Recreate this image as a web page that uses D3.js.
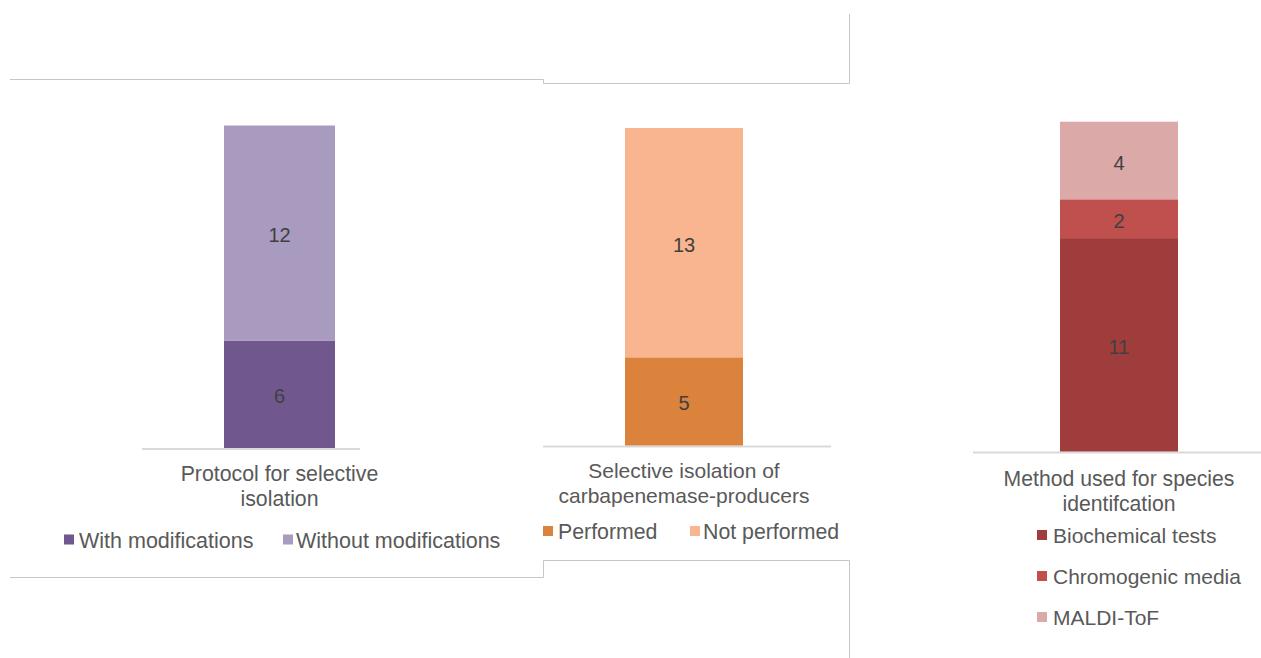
<!DOCTYPE html>
<html>
<head>
<meta charset="utf-8">
<script src="https://cdn.jsdelivr.net/npm/d3@7"></script>
<style>
  html, body { margin: 0; padding: 0; background: #fff; }
  svg { display: block; font-family: "Liberation Sans", Arial, sans-serif; }
</style>
</head>
<body>
<svg id="chart" width="1261" height="658"></svg>
<script>
// ---------- data ----------
const protocolCategory = ["Protocol for selective", "isolation"];
const protocolSeries = ["With modifications", "Without modifications"];
const protocolValues = [6, 12];
const protocolColors = ["#70578D", "#A99ABF"];

const isolationCategory = ["Selective isolation of", "carbapenemase-producers"];
const isolationSeries = ["Performed", "Not performed"];
const isolationValues = [5, 13];
const isolationColors = ["#DB823C", "#F8B590"];

const methodCategory = ["Method used for species", "identifcation"];
const methodSeries = ["Biochemical tests", "Chromogenic media", "MALDI-ToF"];
const methodValues = [11, 2, 4];
const methodColors = ["#9E3D3B", "#C0504D", "#DBA9A8"];

// ---------- layout ----------
const panels = [
  { cat: protocolCategory, series: protocolSeries, values: protocolValues, colors: protocolColors,
    base: 448, top: 125.5, barX: [224, 335], axisX: [142, 360],
    titleY: 481, titleFS: 21.3, legendFS: 21.5,
    legend: { type: "row", y: 540, items: [[64, 79], [283, 296]] } },
  { cat: isolationCategory, series: isolationSeries, values: isolationValues, colors: isolationColors,
    base: 445.5, top: 128, barX: [625, 743], axisX: [543, 831],
    titleY: 478, titleFS: 21, legendFS: 21.3,
    legend: { type: "row", y: 531.5, items: [[543, 558], [690, 703]] } },
  { cat: methodCategory, series: methodSeries, values: methodValues, colors: methodColors,
    base: 451.5, top: 121.7, barX: [1060, 1178], axisX: [973, 1261],
    titleY: 486, titleFS: 21.2, legendFS: 21,
    legend: { type: "col", x: [1037, 1053], ys: [535.5, 576.5, 617.5] } }
];

const svg = d3.select("#chart");

// frame lines
const frame = svg.append("g").attr("fill", "none").attr("stroke", "#C6C6C6").attr("stroke-width", 1);
frame.append("path").attr("d", d3.line()([[10, 79.5], [543.5, 79.5], [543.5, 83.5], [849.5, 83.5], [849.5, 14]]));
frame.append("path").attr("d", d3.line()([[10, 577.5], [543.5, 577.5], [543.5, 560.5], [849.5, 560.5], [849.5, 658]]));

panels.forEach(p => {
  const g = svg.append("g");
  const total = d3.sum(p.values);
  const y = d3.scaleLinear().domain([0, total]).range([p.base, p.top]);
  const x = d3.scaleBand().domain([p.cat.join(" ")]).range(p.barX).padding(0);

  const row = { cat: p.cat.join(" ") };
  p.series.forEach((s, i) => row[s] = p.values[i]);
  const stacked = d3.stack().keys(p.series)([row]);

  // baseline
  g.append("line")
    .attr("x1", p.axisX[0]).attr("x2", p.axisX[1])
    .attr("y1", p.base + 1).attr("y2", p.base + 1)
    .attr("stroke", "#D9D9D9").attr("stroke-width", 2);

  // bars
  stacked.forEach((layer, i) => {
    const d = layer[0];
    g.append("rect")
      .attr("x", x(row.cat))
      .attr("width", x.bandwidth())
      .attr("y", y(d[1]))
      .attr("height", y(d[0]) - y(d[1]))
      .attr("fill", p.colors[i]);
    g.append("text")
      .attr("x", x(row.cat) + x.bandwidth() / 2)
      .attr("y", (y(d[0]) + y(d[1])) / 2)
      .attr("dy", "0.45em")
      .attr("text-anchor", "middle")
      .attr("font-size", 20)
      .attr("fill", "#404040")
      .text(p.values[i]);
  });

  // title
  const cx = x(row.cat) + x.bandwidth() / 2;
  p.cat.forEach((line, i) => {
    g.append("text")
      .attr("x", cx).attr("y", p.titleY + i * 24.5)
      .attr("text-anchor", "middle")
      .attr("font-size", p.titleFS)
      .attr("fill", "#595959")
      .text(line);
  });

  // legend
  const L = p.legend;
  p.series.forEach((s, i) => {
    let sx, tx, cy;
    if (L.type === "row") { sx = L.items[i][0]; tx = L.items[i][1]; cy = L.y; }
    else { sx = L.x[0]; tx = L.x[1]; cy = L.ys[i]; }
    g.append("rect").attr("x", sx).attr("y", cy - 5.5).attr("width", 10).attr("height", 10)
      .attr("fill", p.colors[i]);
    g.append("text").attr("x", tx).attr("y", cy).attr("dy", "0.36em")
      .attr("font-size", p.legendFS)
      .attr("fill", "#595959").text(s);
  });
});
</script>
</body>
</html>
